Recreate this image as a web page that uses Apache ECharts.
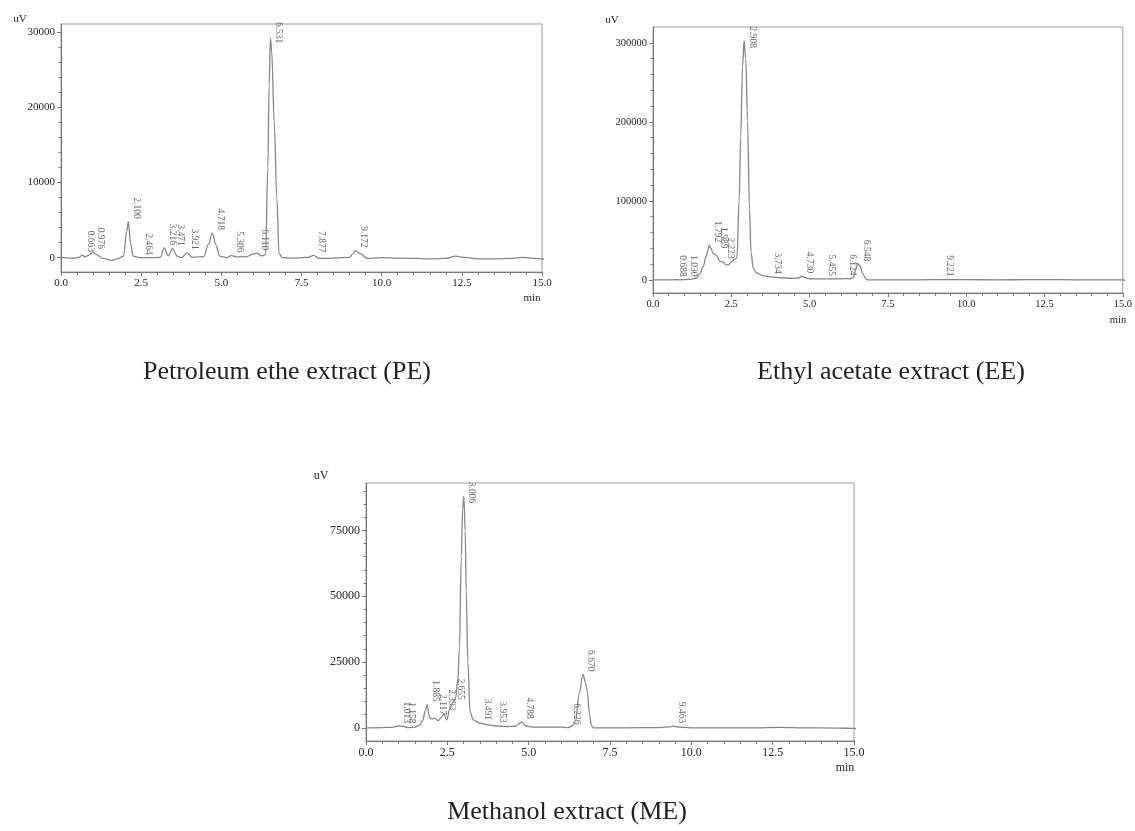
<!DOCTYPE html>
<html>
<head>
<meta charset="utf-8">
<script src="https://cdn.jsdelivr.net/npm/echarts@6/dist/echarts.min.js"></script>
<style>
html,body{margin:0;padding:0;background:#fff;}
#c{width:1135px;height:831px;}
</style>
</head>
<body>
<div id="c"></div>
<script>
// ---- tick labels ----
const xTicks = [0, 2.5, 5, 7.5, 10, 12.5, 15];
const peYTicks = [0, 10000, 20000, 30000];
const eeYTicks = [0, 100000, 200000, 300000];
const meYTicks = [0, 25000, 50000, 75000];
const peYMinor = [2000, 4000, 6000, 8000, 12000, 14000, 16000, 18000, 22000, 24000, 26000, 28000];
const eeYMinor = [20000, 40000, 60000, 80000, 120000, 140000, 160000, 180000, 220000, 240000, 260000, 280000];
const meYMinor = [5000, 10000, 15000, 20000, 30000, 35000, 40000, 45000, 55000, 60000, 65000, 70000, 80000, 85000, 90000];

// ---- Petroleum ether extract (PE) ----
const peTime = [0, 0.3, 0.55, 0.663, 0.75, 0.85, 0.976, 1.1, 1.3, 1.58, 1.75, 1.95, 2.05, 2.1, 2.17, 2.25, 2.464, 2.8, 3.1, 3.216, 3.35, 3.471, 3.63, 3.76, 3.921, 4.1, 4.45, 4.6, 4.718, 4.83, 4.95, 5.17, 5.306, 5.5, 5.8, 6.0, 6.11, 6.25, 6.38, 6.45, 6.49, 6.531, 6.57, 6.65, 6.73, 6.8, 6.9, 7.3, 7.7, 7.877, 8.05, 8.5, 9.0, 9.1, 9.172, 9.35, 9.55, 10.0, 10.5, 11.0, 11.5, 12.0, 12.3, 12.6, 13.0, 13.5, 14.0, 14.4, 14.8, 15.0, 15.3];
const peSignal = [0, -50, 0, 350, 100, 300, 750, 450, -100, -350, -150, 200, 3500, 4800, 1900, 200, 0, 0, 50, 1300, 250, 1200, 200, 0, 650, 50, 150, 1800, 3300, 1700, 200, 0, 280, 100, 150, 500, 600, 250, 400, 12000, 23000, 29200, 27500, 18000, 8000, 600, 0, -50, 50, 300, -100, -50, 50, 500, 950, 500, -100, 0, -50, -100, -150, -100, 200, 50, -150, -150, -100, 50, -100, -150, -900];
const pePeakTimes = [0.663, 0.976, 2.100, 2.464, 3.216, 3.471, 3.921, 4.718, 5.306, 6.110, 6.531, 7.877, 9.172];
const pePeakHeights = [350, 750, 4800, 0, 1300, 1200, 650, 3300, 280, 600, 29200, 300, 950];

// ---- Ethyl acetate extract (EE) ----
const eeTime = [0, 0.5, 0.688, 0.85, 1.03, 1.2, 1.39, 1.5, 1.6, 1.7, 1.76, 1.792, 1.84, 1.92, 1.989, 2.05, 2.13, 2.223, 2.3, 2.4, 2.5, 2.6, 2.68, 2.75, 2.8, 2.86, 2.908, 2.96, 3.02, 3.08, 3.13, 3.2, 3.3, 3.5, 3.734, 4.0, 4.5, 4.65, 4.75, 4.85, 5.0, 5.455, 6.0, 6.124, 6.3, 6.4, 6.48, 6.54, 6.6, 6.7, 6.78, 6.86, 7.5, 8.5, 9.221, 10.0, 11.0, 12.0, 12.5, 13.5, 14.5, 15.0, 15.35];
const eeSignal = [0, 0, 300, 200, 500, 800, 2500, 8000, 17000, 30000, 38000, 44000, 41000, 34000, 32000, 30000, 23500, 23000, 20000, 19000, 23000, 26000, 28000, 100000, 180000, 270000, 303000, 280000, 200000, 90000, 35000, 15000, 9000, 5500, 4000, 3000, 2000, 2500, 4800, 3000, 1500, 1300, 1300, 1800, 1500, 3000, 15000, 20500, 18000, 8000, 2000, 0, 0, 200, 500, 300, 200, 300, 500, 200, 200, 0, -6300];
const eePeakTimes = [0.688, 1.030, 1.792, 1.989, 2.223, 2.908, 3.734, 4.730, 5.455, 6.124, 6.548, 9.221];
const eePeakHeights = [300, 500, 44000, 36000, 23000, 303000, 4000, 4800, 1300, 1800, 20000, 500];

// ---- Methanol extract (ME) ----
const meTime = [0, 0.5, 0.8, 1.013, 1.1, 1.158, 1.3, 1.5, 1.65, 1.75, 1.82, 1.885, 1.93, 1.98, 2.05, 2.117, 2.22, 2.33, 2.393, 2.48, 2.58, 2.655, 2.75, 2.82, 2.87, 2.93, 2.97, 3.006, 3.05, 3.08, 3.13, 3.2, 3.3, 3.491, 3.7, 3.953, 4.3, 4.6, 4.7, 4.788, 4.9, 5.1, 5.5, 6.0, 6.226, 6.35, 6.45, 6.55, 6.67, 6.75, 6.8, 6.87, 6.93, 7.0, 8.0, 9.0, 9.35, 9.463, 9.6, 10.0, 11.0, 12.0, 12.7, 13.5, 14.5, 15.0, 15.3];
const meSignal = [0, 100, 200, 700, 600, 500, 100, 300, 1000, 3000, 6500, 8800, 5000, 3600, 3400, 3700, 2700, 4200, 5400, 3000, 7300, 9500, 11000, 18000, 30000, 65000, 83000, 88000, 75000, 52000, 25000, 6000, 3000, 1800, 1200, 800, 500, 600, 1500, 2300, 800, 300, 300, 300, 100, 800, 3000, 13000, 20300, 17000, 14000, 5000, 800, 0, 0, 100, 400, 650, 300, 0, 0, 0, 200, 0, -100, -200, -2400];
const mePeakTimes = [1.013, 1.158, 1.885, 2.117, 2.393, 2.655, 3.006, 3.491, 3.953, 4.788, 6.226, 6.670, 9.463];
const mePeakHeights = [700, 500, 8800, 3700, 5400, 9500, 88000, 1800, 800, 2300, 100, 20300, 650];

const captions = ['Petroleum ethe extract (PE)', 'Ethyl acetate extract (EE)', 'Methanol extract (ME)'];

// ---- chart setup ----
const SERIF = 'Liberation Serif';
const AX = '#777';
const TXT = '#222';
const panels = [
  {grid: {left: 61, top: 24, width: 481, height: 248}, ymin: -1900, ymax: 31100, yTicks: peYTicks, yMinor: peYMinor,
   t: peTime, v: peSignal, pt: pePeakTimes, ph: pePeakHeights, fs: 11},
  {grid: {left: 653, top: 27, width: 471, height: 266}, ymin: -16500, ymax: 320000, yTicks: eeYTicks, yMinor: eeYMinor,
   t: eeTime, v: eeSignal, pt: eePeakTimes, ph: eePeakHeights, fs: 10.5},
  {grid: {left: 366, top: 483, width: 488, height: 258}, ymin: -5000, ymax: 93000, yTicks: meYTicks, yMinor: meYMinor,
   t: meTime, v: meSignal, pt: mePeakTimes, ph: mePeakHeights, fs: 12}
];

const grids = [], xAxes = [], yAxes = [], series = [];
panels.forEach((p, i) => {
  grids.push(Object.assign({show: true, borderColor: '#999', borderWidth: 1, backgroundColor: 'transparent'}, p.grid));
  xAxes.push({
    type: 'value', gridIndex: i, min: 0, max: 15, interval: 2.5,
    axisLine: {show: true, onZero: false, lineStyle: {color: AX, width: 1}},
    axisTick: {show: true, length: 4, lineStyle: {color: AX}},
    minorTick: {show: true, splitNumber: 5, length: 3, lineStyle: {color: AX}},
    splitLine: {show: false}, minorSplitLine: {show: false},
    axisLabel: {fontFamily: SERIF, fontSize: p.fs, color: TXT, margin: 6,
      formatter: v => v.toFixed(1), showMinLabel: true, showMaxLabel: true}
  });
  yAxes.push({
    type: 'value', gridIndex: i, position: 'left', min: p.ymin, max: p.ymax,
    axisLine: {show: true, onZero: false, lineStyle: {color: AX, width: 1}},
    axisTick: {show: true, length: 4, customValues: p.yTicks, lineStyle: {color: AX}},
    axisLabel: {customValues: p.yTicks, fontFamily: SERIF, fontSize: p.fs, color: TXT, margin: 6,
      formatter: v => String(Math.round(v))},
    splitLine: {show: false}
  });
  yAxes.push({
    type: 'value', gridIndex: i, position: 'left', offset: 0, min: p.ymin, max: p.ymax,
    axisLine: {show: false, onZero: false},
    axisTick: {show: true, length: 2.5, customValues: p.yMinor, lineStyle: {color: AX}},
    axisLabel: {show: false},
    splitLine: {show: false}
  });
  series.push({
    type: 'line', xAxisIndex: i, yAxisIndex: 2 * i,
    data: p.t.map((t, k) => [t, p.v[k]]),
    showSymbol: false, smooth: 0.35, smoothMonotone: 'x', clip: false,
    lineStyle: {color: '#858585', width: 1.3}, silent: true, animation: false
  });
  const cap = p.ymax - 0.09 * (p.ymax - p.ymin);
  series.push({
    type: 'scatter', xAxisIndex: i, yAxisIndex: 2 * i,
    data: p.pt.map((t, k) => [t, Math.min(p.ph[k], cap), t.toFixed(3)]),
    symbolSize: 1, itemStyle: {color: 'rgba(0,0,0,0)'}, silent: true, animation: false, clip: false,
    label: {show: true, rotate: -90, position: [8.5, -2.5], align: 'right', verticalAlign: 'middle',
      fontFamily: SERIF, fontSize: 9.5, color: '#444', formatter: d => d.value[2]}
  });
});

const txt = (x, y, s, size, align) => ({type: 'text', x: x, y: y, silent: true,
  style: {text: s, fontFamily: SERIF, fontSize: size, fill: TXT, align: align || 'center', verticalAlign: 'middle'}});

const chart = echarts.init(document.getElementById('c'), null, {renderer: 'canvas'});
chart.setOption({
  animation: false,
  backgroundColor: '#fff',
  grid: grids, xAxis: xAxes, yAxis: yAxes, series: series,
  graphic: [
    txt(20, 19, 'uV', 11), txt(612, 20, 'uV', 11), txt(321, 476, 'uV', 12),
    txt(532, 298, 'min', 11), txt(1118, 320, 'min', 10.5), txt(845, 768, 'min', 12),
    txt(287, 372, captions[0], 26), txt(891, 372, captions[1], 26), txt(567, 812, captions[2], 26)
  ]
});
</script>
</body>
</html>
